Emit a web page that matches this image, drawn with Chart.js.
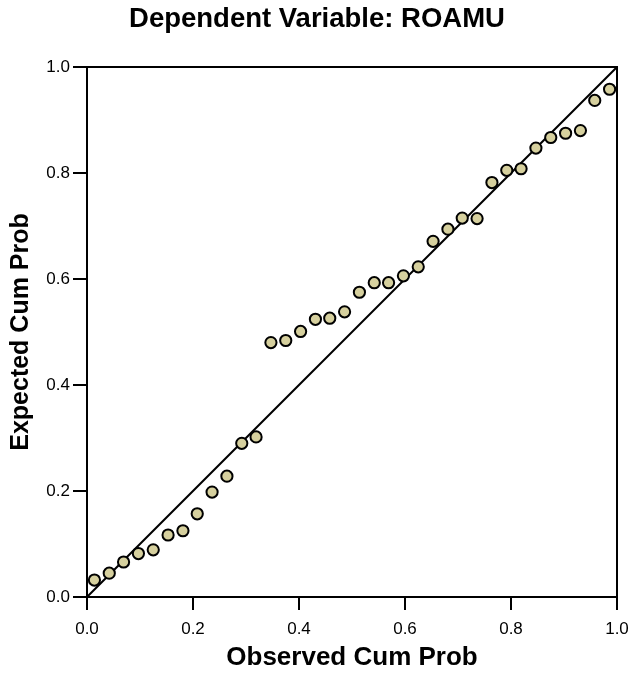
<!DOCTYPE html>
<html>
<head>
<meta charset="utf-8">
<script src="https://cdn.jsdelivr.net/npm/chart.js@4/dist/chart.umd.min.js"></script>
<style>
  body { margin: 0; background: #fff; }
</style>
</head>
<body>
<canvas id="ppPlot" width="634" height="676"></canvas>
<script>
// Datos (P-P plot de residuos)
const observado = [0.014, 0.042, 0.069, 0.097, 0.125, 0.153, 0.181, 0.208, 0.236, 0.264, 0.292, 0.319,
  0.347, 0.375, 0.403, 0.431, 0.458, 0.486, 0.514, 0.542, 0.569, 0.597, 0.625, 0.653,
  0.681, 0.708, 0.736, 0.764, 0.792, 0.819, 0.847, 0.875, 0.903, 0.931, 0.958, 0.986];
const esperado = [0.032, 0.045, 0.066, 0.082, 0.089, 0.117, 0.125, 0.157, 0.198, 0.228, 0.290, 0.302,
  0.480, 0.484, 0.501, 0.524, 0.526, 0.538, 0.575, 0.593, 0.593, 0.606, 0.623, 0.671,
  0.694, 0.715, 0.714, 0.782, 0.805, 0.808, 0.847, 0.867, 0.875, 0.880, 0.937, 0.958];
const diagonal = [0, 1];
const ticks = [0, 0.2, 0.4, 0.6, 0.8, 1.0];

const fuente = "'Liberation Sans', Arial, sans-serif";

// Marco superior y derecho del area del grafico
const marco = {
  id: 'marco',
  afterDraw(chart) {
    const { ctx, chartArea: a } = chart;
    ctx.save();
    ctx.strokeStyle = '#000';
    ctx.lineWidth = 2;
    ctx.beginPath();
    ctx.moveTo(a.left, a.top);
    ctx.lineTo(a.right, a.top);
    ctx.lineTo(a.right, a.bottom);
    ctx.stroke();
    ctx.restore();
  }
};

function ejeConfig(titulo, tickLen, pad, titlePad, tamTitulo) {
  return {
    type: 'linear',
    min: ticks[0],
    max: ticks[ticks.length - 1],
    afterBuildTicks: (scale) => { scale.ticks = ticks.map(v => ({ value: v })); },
    ticks: {
      color: '#000',
      padding: pad,
      font: { family: fuente, size: 17 },
      callback: (v) => Number(v).toFixed(1)
    },
    grid: { drawOnChartArea: false, drawTicks: true, tickLength: tickLen, color: '#000', lineWidth: 2 },
    border: { display: true, color: '#000', width: 2 },
    title: {
      display: true,
      text: titulo,
      color: '#000',
      padding: titlePad,
      font: { family: fuente, size: tamTitulo, weight: 'bold' }
    }
  };
}

const ctx = document.getElementById('ppPlot');
const ejeX = ejeConfig('Observed Cum Prob', 13, 9, { top: 0, bottom: 3 }, 26);
ejeX.afterFit = (scale) => {
  scale.height = 79;
  scale.paddingLeft = 0;
  scale.paddingRight = 17; // margen derecho del area
};
const ejeY = ejeConfig('Expected Cum Prob', 14, 3, { top: 6, bottom: 0 }, 25);
ejeY.afterFit = (scale) => { scale.width = 87; };

new Chart(ctx, {
  type: 'scatter',
  data: {
    datasets: [
      {
        label: 'ROAMU',
        data: observado.map((x, i) => ({ x: x, y: esperado[i] })),
        backgroundColor: '#d6d09e',
        borderColor: '#000',
        borderWidth: 2,
        pointRadius: 5.6,
        order: 0
      },
      {
        label: 'diagonal',
        type: 'line',
        data: diagonal.map(v => ({ x: v, y: v })),
        borderColor: '#000',
        borderWidth: 2,
        pointRadius: 0,
        fill: false,
        order: 1
      }
    ]
  },
  options: {
    responsive: false,
    animation: false,
    devicePixelRatio: 1,
    layout: { padding: 0 },
    plugins: {
      legend: { display: false },
      tooltip: { enabled: false },
      title: {
        display: true,
        text: 'Dependent Variable: ROAMU',
        color: '#000',
        padding: { top: 3, bottom: 31 },
        font: { family: fuente, size: 27.5, weight: 'bold' }
      }
    },
    scales: { x: ejeX, y: ejeY }
  },
  plugins: [marco]
});
</script>
</body>
</html>
